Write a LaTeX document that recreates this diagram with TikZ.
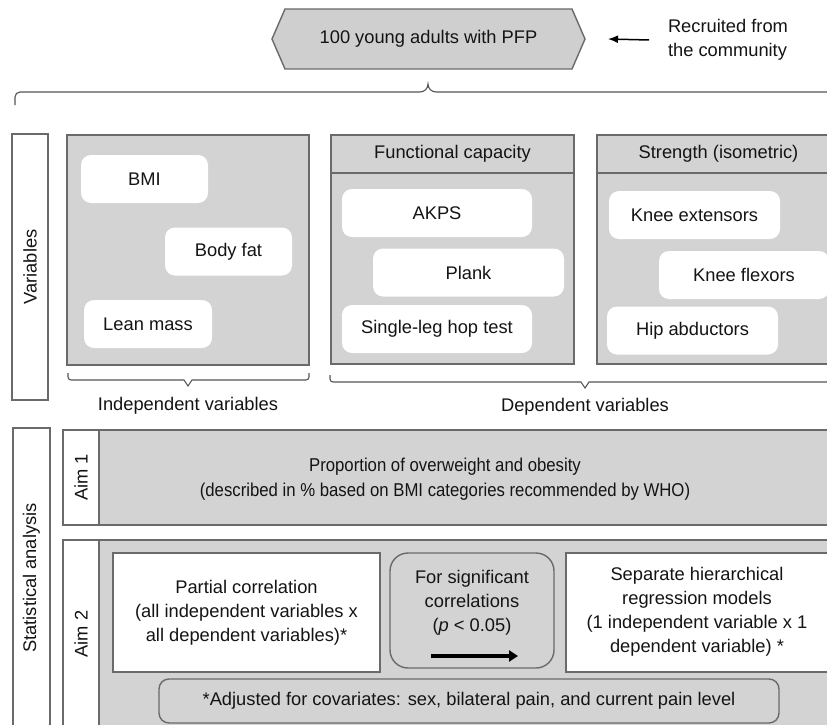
\documentclass[tikz,border=0pt]{standalone}
\usepackage{fontspec}
\setmainfont{Liberation Sans}
\newfontfamily\narrowf[FakeStretch=0.9]{Liberation Sans}
\usetikzlibrary{arrows.meta}
\definecolor{boxgray}{HTML}{D3D3D3}
\definecolor{hexgray}{HTML}{CFCFCF}
\definecolor{edgegray}{HTML}{6A6A6A}
\definecolor{txt}{HTML}{141414}
\begin{document}
\begin{tikzpicture}[x=1pt,y=-1pt,
  every node/.style={inner sep=0pt, outer sep=0pt, text=txt, font=\fontsize{18.3}{24}\selectfont},
  graybox/.style={draw=edgegray, fill=boxgray, line width=1.4pt},
  whitebox/.style={draw=edgegray, fill=white, line width=1.4pt},
  item/.style={fill=white, rounded corners=10pt, minimum height=48pt},
  bracel/.style={draw=edgegray!80!black, line width=1.1pt},
  lbl/.style={draw=edgegray, fill=white, line width=1.4pt, rotate=90}
]
\useasboundingbox (0,0) rectangle (827,725);
\clip (0,0) rectangle (827,725);
\fill[white] (0,0) rectangle (827,725);

% top hexagon
\node[minimum width=313pt, minimum height=60pt] (pfp) at (428.5,39) {};
\draw[draw=edgegray, fill=hexgray, line width=1.4pt]
  (pfp.west) -- ([xshift=13pt]pfp.north west) -- ([xshift=-13pt]pfp.north east)
  -- (pfp.east) -- ([xshift=-13pt]pfp.south east) -- ([xshift=13pt]pfp.south west) -- cycle;
\node (pfptxt) at (pfp.center) {100 young adults with PFP};
\node[anchor=west, align=left] (recruit) at (668,40) {Recruited from\\the community};
\draw[line width=1.5pt, -{Latex[length=10pt,width=8pt]}] ([xshift=-19pt]recruit.west) -- ([xshift=23pt]pfp.east);

% top brace
\coordinate (tbL) at (15,105);
\coordinate (tbR) at (842,105);
\coordinate (tbT) at (428,84);
\draw[bracel] (tbL) -- (15,97) to[out=90,in=180] (20,92) -- (420,92) to[out=0,in=-90] (tbT)
  to[out=-90,in=180] (436,92) -- (837,92) to[out=0,in=90] (842,97) -- (tbR);

% Variables label
\node[lbl, minimum width=266pt, minimum height=36pt] (varlab) at (30,267) {Variables};

% Independent
\node[graybox, anchor=north west, minimum width=242pt, minimum height=230pt] (indep) at (67,135) {};
\node[item, minimum width=127pt] (bmi) at (144.5,179) {BMI};
\node[item, minimum width=127pt] (fat) at (228.5,251.5) {Body fat};
\node[item, minimum width=128pt] (lean) at (148,324) {Lean mass};

% Functional capacity
\node[graybox, anchor=north west, minimum width=243pt, minimum height=229pt] (func) at (331,135) {};
\draw[edgegray, line width=1.4pt] (func.west |- 0,173) -- (func.east |- 0,173);
\node (funch) at (452.5,154) {Functional capacity};
\node[item, minimum width=190pt] (akps) at (437,213) {AKPS};
\node[item, minimum width=191pt] (plank) at (468.5,272.5) {Plank};
\node[item, minimum width=190pt] (hop) at (437,329) {Single-leg hop test};

% Strength
\node[graybox, anchor=north west, minimum width=243pt, minimum height=229pt] (stren) at (597,135) {};
\draw[edgegray, line width=1.4pt] (stren.west |- 0,173) -- (stren.east |- 0,173);
\node (strh) at (718.5,154) {Strength (isometric)};
\node[item, minimum width=171pt] (kext) at (694.5,215) {Knee extensors};
\node[item, minimum width=170pt] (kflex) at (744,275) {Knee flexors};
\node[item, minimum width=171pt] (hip) at (692.5,330.5) {Hip abductors};

% lower braces
\draw[bracel] (68,373) -- (68,377) to[out=-90,in=180] (71,380) -- (184,380) -- (188,386) -- (192,380) -- (306,380) to[out=0,in=-90] (309,377) -- (309,373);
\draw[bracel] (330,375) -- (330,379) to[out=-90,in=180] (333,382) -- (581,382) -- (585,388) -- (589,382) -- (846,382);
\node (indlab) at (188,406) {Independent variables};
\node (deplab) at (585,407) {Dependent variables};

% Statistical analysis
\node[lbl, minimum width=300pt, minimum height=37pt] (statlab) at (31.5,578) {Statistical analysis};

% Aim 1
\node[lbl, minimum width=95pt, minimum height=36pt] (aim1) at (81,477.5) {Aim 1};
\node[graybox, anchor=north west, minimum width=800pt, minimum height=95pt] (aim1box) at (99,430) {};
\node[align=center, font=\narrowf\fontsize{18.6}{25}\selectfont] (aim1txt) at (445,479.5)
  {Proportion of overweight and obesity\\(described in \% based on BMI categories recommended by WHO)};

% Aim 2
\node[lbl, minimum width=188pt, minimum height=36pt] (aim2) at (81,634) {Aim 2};
\node[graybox, anchor=north west, minimum width=800pt, minimum height=200pt] (aim2box) at (99,540) {};
\node[whitebox, minimum width=267pt, minimum height=119pt, align=center] (partial) at (246.5,612.5)
  {Partial correlation\\(all independent variables x\\all dependent variables)*};
\node[graybox, rounded corners=18pt, minimum width=164pt, minimum height=115pt] (sig) at (472,610.5) {};
\node[align=center] (sigtxt) at (472,603) {For significant\\correlations\\(\textit{p} < 0.05)};
\coordinate (sigA) at (431,656);
\coordinate (sigB) at (518,656);
\draw[line width=3.2pt, -{Triangle[length=9pt,width=11pt]}] (sigA) -- (sigB);
\node[whitebox, anchor=north west, minimum width=330pt, minimum height=119pt] (sep) at (566,553) {};
\node[align=center] (septxt) at (697,612) {Separate hierarchical\\regression models\\(1 independent variable x 1\\dependent variable) *};
\node[graybox, rounded corners=10pt, minimum width=620pt, minimum height=44pt] (adj) at (469,701)
  {*Adjusted for covariates: sex, bilateral pain, and current pain level};
\end{tikzpicture}
\end{document}
